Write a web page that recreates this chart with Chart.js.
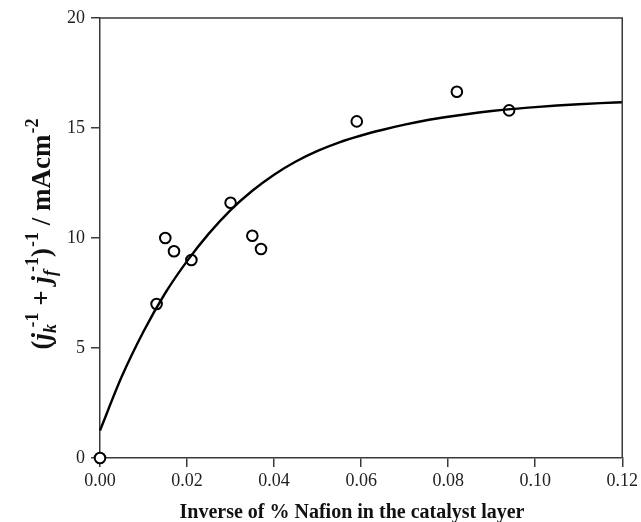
<!DOCTYPE html>
<html lang="en">
<head>
  <meta charset="UTF-8" />
  <title>Inverse of % Nafion</title>
  <script src="https://cdn.jsdelivr.net/npm/chart.js"></script>
  <style>
    html, body {
      margin: 0;
      padding: 0;
      background: #fff;
    }
  </style>
</head>
<body>
  <canvas id="nafionChart" width="641" height="522"></canvas>

  <script>
    // measured points (open circles)
    const nafionInv = [0, 0.013, 0.015, 0.017, 0.021, 0.030, 0.035, 0.037, 0.059, 0.082, 0.094];
    const currentVals = [0, 7.0, 10.0, 9.4, 9.0, 11.6, 10.1, 9.5, 15.3, 16.65, 15.8];

    // fitted curve, every 0.005
    const fitX = [0, 0.005, 0.010, 0.015, 0.020, 0.025, 0.030, 0.035, 0.040, 0.045, 0.050, 0.055, 0.060,
                  0.065, 0.070, 0.075, 0.080, 0.085, 0.090, 0.095, 0.100, 0.105, 0.110, 0.115, 0.120];
    const fitY = [1.25, 3.7, 5.75, 7.5, 8.95, 10.2, 11.27, 12.15, 12.88, 13.48, 13.96, 14.35, 14.66,
                  14.92, 15.15, 15.35, 15.51, 15.65, 15.77, 15.87, 15.95, 16.02, 16.08, 16.13, 16.17];

    const xTicks = [0, 0.02, 0.04, 0.06, 0.08, 0.10, 0.12];
    const yTicks = [0, 5, 10, 15, 20];

    const serif = '"Liberation Serif", "DejaVu Serif", serif';
    const axisColor = '#3a3a3a';

    // y title with italic j, subscripts and superscripts
    const yTitleParts = [
      { t: '(' },
      { t: 'j', it: true },
      { sub: 'k', sup: '-1' },
      { t: ' + ' },
      { t: 'j', it: true },
      { sub: 'f', sup: '-1' },
      { t: ')' },
      { sup: '-1' },
      { t: ' / mAcm' },
      { sup: '-2' }
    ];

    const titlesPlugin = {
      id: 'titles',
      afterDraw(chart) {
        const ctx = chart.ctx;
        const area = chart.chartArea;
        ctx.save();

        // top and right frame lines
        ctx.strokeStyle = axisColor;
        ctx.lineWidth = 1.5;
        ctx.beginPath();
        ctx.moveTo(area.left, area.top);
        ctx.lineTo(area.right, area.top);
        ctx.lineTo(area.right, area.bottom);
        ctx.stroke();

        ctx.fillStyle = '#111';

        // x title
        ctx.font = 'bold 20px ' + serif;
        ctx.textAlign = 'center';
        ctx.textBaseline = 'alphabetic';
        ctx.fillText('Inverse of % Nafion in the catalyst layer', 352, 518);

        // y title
        const big = 'bold 27px ' + serif;
        const bigIt = 'italic bold 27px ' + serif;
        const small = 'bold 18px ' + serif;
        const smallIt = 'italic bold 18px ' + serif;
        ctx.textAlign = 'left';

        const measure = (font, s) => { ctx.font = font; return ctx.measureText(s).width; };
        const widthOf = p => {
          if (p.t) return measure(p.it ? bigIt : big, p.t);
          const subW = p.sub ? measure(smallIt, p.sub) : 0;
          const supW = measure(small, p.sup);
          return Math.max(subW, subW * 0.5 + supW) + 1;
        };
        const total = yTitleParts.reduce((s, p) => s + widthOf(p), 0);

        ctx.translate(50, 234);
        ctx.rotate(-Math.PI / 2);
        let x = -total / 2;
        yTitleParts.forEach(p => {
          const w = widthOf(p);
          if (p.t) {
            ctx.font = p.it ? bigIt : big;
            ctx.fillText(p.t, x, 0);
          } else {
            const subW = p.sub ? measure(smallIt, p.sub) : 0;
            if (p.sub) { ctx.font = smallIt; ctx.fillText(p.sub, x, 6); }
            ctx.font = small;
            ctx.fillText(p.sup, x + subW * 0.5 + 1, -12);
          }
          x += w;
        });

        ctx.restore();
      }
    };

    const ctx = document.getElementById('nafionChart').getContext('2d');
    new Chart(ctx, {
      type: 'scatter',
      data: {
        datasets: [
          {
            label: 'fit',
            data: fitX.map((v, i) => ({ x: v, y: fitY[i] })),
            showLine: true,
            borderColor: '#000',
            borderWidth: 2.4,
            pointRadius: 0,
            cubicInterpolationMode: 'monotone',
            fill: false,
            clip: false
          },
          {
            label: 'measured',
            data: nafionInv.map((v, i) => ({ x: v, y: currentVals[i] })),
            borderColor: '#000',
            backgroundColor: '#fff',
            borderWidth: 2,
            pointRadius: 5.3,
            clip: false
          }
        ]
      },
      options: {
        responsive: false,
        animation: false,
        devicePixelRatio: 1,
        layout: {
          padding: { top: 18, right: 15, left: 0, bottom: 0 }
        },
        plugins: {
          legend: { display: false },
          tooltip: { enabled: false }
        },
        scales: {
          x: {
            type: 'linear',
            min: 0,
            max: 0.12,
            afterBuildTicks: s => { s.ticks = xTicks.map(v => ({ value: v })); },
            afterFit: s => { s.height = 64; },
            ticks: {
              callback: v => v.toFixed(2),
              font: { family: serif, size: 18 },
              color: '#222',
              padding: 3,
              maxRotation: 0,
              autoSkip: false
            },
            grid: {
              drawOnChartArea: false,
              tickLength: 9,
              color: axisColor,
              lineWidth: 1.5
            },
            border: { color: axisColor, width: 1.5 }
          },
          y: {
            min: 0,
            max: 20,
            afterBuildTicks: s => { s.ticks = yTicks.map(v => ({ value: v })); },
            afterFit: s => { s.width = 100; },
            ticks: {
              font: { family: serif, size: 18 },
              color: '#222',
              padding: 6
            },
            grid: {
              drawOnChartArea: false,
              tickLength: 9,
              color: axisColor,
              lineWidth: 1.5
            },
            border: { color: axisColor, width: 1.5 }
          }
        }
      },
      plugins: [titlesPlugin]
    });
  </script>
</body>
</html>
